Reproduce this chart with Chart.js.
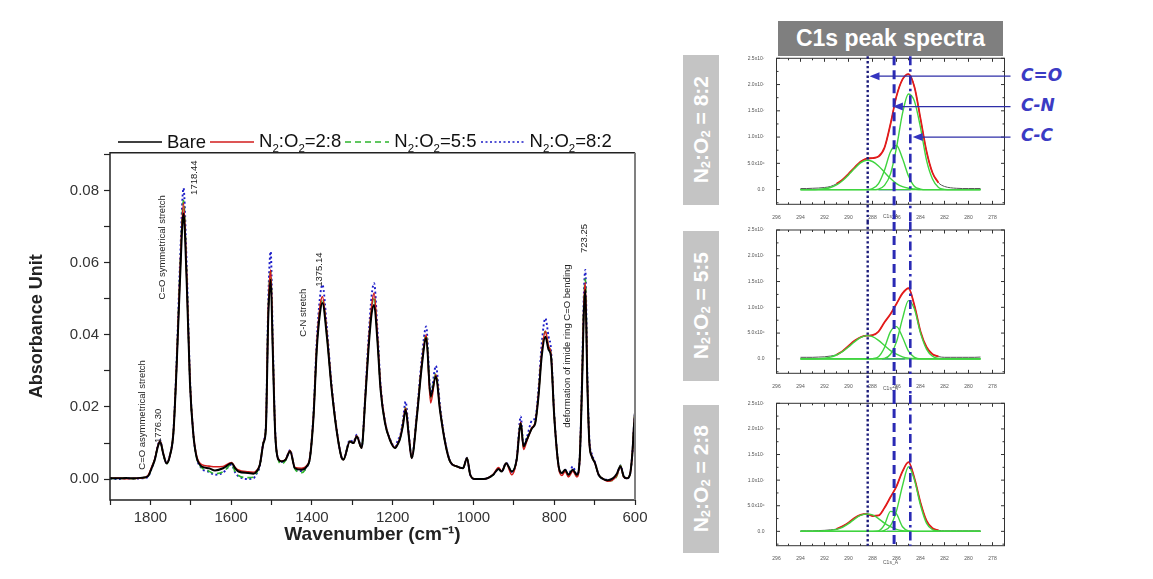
<!DOCTYPE html>
<html>
<head>
<meta charset="utf-8">
<title>FTIR absorbance and C1s peak spectra</title>
<script src="https://cdn.jsdelivr.net/npm/chart.js@4.4.1/dist/chart.umd.min.js"></script>
<style>
  html, body { margin: 0; padding: 0; background: #fff; }
  body { position: relative; width: 1153px; height: 579px; overflow: hidden; font-family: "Liberation Sans", Arial, sans-serif; }
  canvas { position: absolute; }
  #legend { position: absolute; left: 118px; top: 130px; height: 24px; display: flex; align-items: center; font-size: 18.5px; color: #111; white-space: nowrap; }
  #legend svg { display: block; }
  #legend .name { margin: 0 4px 0 5px; }
  sub { font-size: 0.62em; line-height: 1; }
  .title-box { position: absolute; left: 778px; top: 21px; width: 225px; height: 35px; background: #7f7f7f; color: #fff; font-weight: bold; font-size: 23px; line-height: 35px; text-align: center; }
  .ratio { position: absolute; left: 683px; width: 36px; background: #c4c4c4; color: #fff; font-weight: bold; font-size: 21px; display: flex; align-items: center; justify-content: center; }
  .ratio span { writing-mode: vertical-rl; transform: rotate(180deg); white-space: nowrap; }
  .bond { position: absolute; left: 1021px; font: italic bold 17px "DejaVu Sans", sans-serif; color: #3b3bc4; line-height: 20px; }
</style>
</head>
<body>
<canvas id="ftir" width="680" height="579" style="left:0;top:0"></canvas>
<div id="legend"></div>

<div class="title-box">C1s peak spectra</div>
<div class="ratio" style="top:55px;height:150px"><span>N<sub>2</sub>:O<sub>2</sub> = 8:2</span></div>
<div class="ratio" style="top:231px;height:150px"><span>N<sub>2</sub>:O<sub>2</sub> = 5:5</span></div>
<div class="ratio" style="top:405px;height:148px"><span>N<sub>2</sub>:O<sub>2</sub> = 2:8</span></div>

<canvas id="xps82" width="270" height="172" style="left:745px;top:50px"></canvas>
<canvas id="xps55" width="270" height="173" style="left:745px;top:222px"></canvas>
<canvas id="xps28" width="270" height="175" style="left:745px;top:395px"></canvas>

<div class="bond" style="top:65px">C=O</div>
<div class="bond" style="top:95px">C-N</div>
<div class="bond" style="top:125px">C-C</div>

<script>
// ---- FTIR absorbance (left panel) ----
const wavenumber = [1900,1880,1860,1840,1820,1806,1797,1789,1782,1776,
  1768,1760,1752,1743,1735,1727,1718,1710,1702,1694,
  1686,1673,1655,1640,1620,1599,1590,1582,1558,1545,
  1537,1529,1520,1514,1508,1502,1497,1491,1483,1475,
  1465,1454,1442,1425,1413,1405,1396,1388,1380,1374,
  1363,1351,1338,1326,1322,1306,1297,1289,1277,1268,
  1260,1252,1246,1238,1230,1219,1207,1194,1186,1182,
  1175,1168,1160,1153,1140,1128,1117,1106,1093,1083,
  1070,1058,1041,1026,1016,1008,996,975,951,938,
  930,919,905,893,883,876,868,855,847,839,
  831,822,814,808,800,789,781,773,765,754,
  744,737,731,727,723,718,713,707,699,690,
  678,668,655,645,636,628,620,612,606,603,
  600];

const bare = [.0003,.0002,.0003,.0002,.0004,.0008,.0030,.0054,.0088,.0104,
  .0070,.0043,.0063,.0128,.0312,.0543,.0737,.0543,.0266,.0128,
  .0063,.0035,.0030,.0024,.0030,.0044,.0030,.0021,.0017,.0015,
  .0021,.0040,.0100,.0140,.0451,.0553,.0359,.0128,.0054,.0049,
  .0054,.0077,.0030,.0026,.0035,.0058,.0174,.0359,.0460,.0488,
  .0395,.0248,.0128,.0058,.0054,.0104,.0100,.0118,.0086,.0220,
  .0359,.0460,.0483,.0386,.0248,.0155,.0109,.0086,.0100,.0111,
  .0146,.0192,.0118,.0058,.0174,.0312,.0391,.0229,.0285,.0192,
  .0100,.0049,.0035,.0030,.0058,.0012,.0000,.0000,.0012,.0028,
  .0021,.0044,.0021,.0054,.0155,.0091,.0109,.0141,.0155,.0229,
  .0340,.0395,.0359,.0340,.0174,.0035,.0017,.0026,.0012,.0026,
  .0012,.0054,.0266,.0451,.0525,.0266,.0100,.0063,.0044,.0012,
  .0000,-.0003,.0002,.0015,.0035,.0008,.0002,.0015,.0080,.0140,
  .0185];

const n2o2_28 = [.0002,.0003,.0001,.0002,.0003,.0010,.0033,.0056,.0090,.0106,
  .0070,.0044,.0064,.0130,.0318,.0560,.0766,.0560,.0272,.0130,
  .0066,.0040,.0036,.0034,.0035,.0046,.0032,.0025,.0020,.0019,
  .0024,.0040,.0102,.0145,.0470,.0580,.0370,.0132,.0055,.0050,
  .0055,.0079,.0032,.0030,.0037,.0060,.0178,.0370,.0478,.0506,
  .0405,.0252,.0130,.0058,.0054,.0105,.0100,.0120,.0086,.0225,
  .0372,.0480,.0516,.0400,.0255,.0158,.0110,.0087,.0102,.0113,
  .0150,.0197,.0120,.0058,.0178,.0320,.0400,.0211,.0290,.0195,
  .0101,.0049,.0035,.0030,.0058,.0012,.0000,.0000,.0013,.0032,
  .0022,.0044,.0012,.0054,.0158,.0082,.0105,.0143,.0157,.0235,
  .0350,.0410,.0368,.0345,.0176,.0032,.0010,.0022,.0006,.0022,
  .0006,.0054,.0275,.0470,.0545,.0272,.0102,.0064,.0044,.0012,
  .0000,-.0006,-.0002,.0010,.0036,.0006,.0002,.0015,.0080,.0140,
  .0185];

const n2o2_55 = [.0001,.0002,.0002,.0001,.0003,.0007,.0032,.0055,.0089,.0105,
  .0068,.0042,.0064,.0131,.0320,.0565,.0772,.0565,.0275,.0129,
  .0062,.0032,.0022,.0015,.0020,.0040,.0020,.0010,.0004,.0005,
  .0018,.0038,.0102,.0146,.0472,.0575,.0372,.0132,.0052,.0042,
  .0052,.0077,.0028,.0018,.0033,.0058,.0178,.0365,.0472,.0500,
  .0400,.0250,.0130,.0058,.0054,.0105,.0100,.0119,.0086,.0224,
  .0368,.0474,.0505,.0396,.0252,.0157,.0110,.0087,.0101,.0112,
  .0150,.0198,.0120,.0060,.0178,.0320,.0400,.0225,.0292,.0196,
  .0101,.0049,.0035,.0030,.0058,.0012,.0000,.0000,.0012,.0028,
  .0020,.0044,.0020,.0054,.0158,.0088,.0108,.0143,.0158,.0235,
  .0352,.0410,.0368,.0346,.0176,.0035,.0014,.0024,.0010,.0026,
  .0010,.0054,.0278,.0476,.0555,.0275,.0103,.0064,.0044,.0012,
  .0000,-.0005,-.0004,.0008,.0038,.0006,.0002,.0015,.0080,.0140,
  .0185];

const n2o2_82 = [.0001,.0000,.0002,.0001,.0002,.0006,.0030,.0056,.0092,.0108,
  .0068,.0045,.0064,.0133,.0330,.0590,.0807,.0590,.0282,.0131,
  .0062,.0030,.0020,.0012,.0018,.0040,.0018,.0008,.0000,.0002,
  .0015,.0036,.0104,.0150,.0500,.0631,.0390,.0136,.0055,.0048,
  .0054,.0080,.0028,.0022,.0033,.0060,.0185,.0385,.0505,.0539,
  .0420,.0258,.0132,.0058,.0054,.0108,.0103,.0123,.0088,.0232,
  .0388,.0510,.0543,.0420,.0262,.0160,.0112,.0090,.0112,.0118,
  .0160,.0215,.0124,.0060,.0185,.0335,.0423,.0235,.0314,.0205,
  .0104,.0050,.0035,.0030,.0059,.0012,.0000,.0000,.0012,.0028,
  .0021,.0045,.0020,.0056,.0174,.0092,.0115,.0163,.0170,.0250,
  .0375,.0446,.0395,.0360,.0180,.0035,.0015,.0026,.0012,.0035,
  .0012,.0056,.0290,.0500,.0580,.0290,.0110,.0070,.0046,.0012,
  .0000,-.0002,.0000,.0012,.0038,.0008,.0002,.0015,.0080,.0140,
  .0185];

const seriesNames = ['Bare', 'N₂:O₂=2:8', 'N₂:O₂=5:5', 'N₂:O₂=8:2'];
const seriesLegendHtml = ['Bare', 'N<sub>2</sub>:O<sub>2</sub>=2:8', 'N<sub>2</sub>:O<sub>2</sub>=5:5', 'N<sub>2</sub>:O<sub>2</sub>=8:2'];
const absorbanceTicks = [0, 0.02, 0.04, 0.06, 0.08];
const wavenumberTicks = [1800, 1600, 1400, 1200, 1000, 800, 600];

// rotated peak assignments, anchored at the bottom end of the text
const peakNotes = [
  { text: 'C=O asymmetrical stretch', wn: 1821, a: 0.0026 },
  { text: '1776.30', wn: 1780, a: 0.0100 },
  { text: 'C=O symmetrical stretch', wn: 1771, a: 0.0498 },
  { text: '1718.44', wn: 1691, a: 0.0788 },
  { text: 'C-N stretch', wn: 1420, a: 0.0395 },
  { text: '1375.14', wn: 1382, a: 0.0533 },
  { text: 'deformation of imide ring C=O bending', wn: 767, a: 0.0142 },
  { text: '723.25', wn: 726, a: 0.0627 }
];

// ---- C1s XPS fits (right panels), intensity in units of 10^6 ----
const bindingEnergy = [294,293.5,293,292.5,292,291.5,291,290.5,290,289.5,
  289,288.5,288,287.5,287,286.5,286,285.5,285,284.5,
  284,283.5,283,282.5,282,281.5,281,280.5,280,279.5,
  279];

const env82 = [0.2,0.2,0.25,0.3,0.4,0.6,1.1,1.9,3.0,4.2, 5.3,5.9,6.0,6.3,8.0,12.5,17.8,21.0,22.0,19.5, 13.5,7.3,3.2,1.3,0.6,0.35,0.25,0.2,0.2,0.2, 0.2];
const co82  = [0,0,0,0.05,0.16,0.4,0.9,1.7,2.8,4.0, 5.1,5.6,5.35,4.5,3.3,2.1,1.15,0.55,0.25,0.1, 0,0,0,0,0,0,0,0,0,0, 0];
const cn82  = [0,0,0,0,0,0,0,0,0,0, 0,0,0.2,1.15,3.7,7.2,8.4,5.9,2.6,0.6, 0.1,0,0,0,0,0,0,0,0,0, 0];
const cc82  = [0,0,0,0,0,0,0,0,0,0, 0,0,0,0.1,0.8,3.0,8.0,14.5,18.2,16.8, 11.8,5.6,2.0,0.4,0.05,0,0,0,0,0, 0];

const env55 = [0.3,0.3,0.3,0.35,0.4,0.55,0.8,1.5,2.5,3.5, 4.2,4.5,4.6,5.3,7.1,8.7,10.7,12.7,13.7,10.3, 5.3,2.3,0.9,0.45,0.3,0.3,0.3,0.3,0.3,0.3, 0.35];
const co55  = [0,0,0,0.05,0.15,0.35,0.75,1.4,2.3,3.3, 4.1,4.5,4.3,3.6,2.6,1.6,0.9,0.4,0.15,0.05, 0,0,0,0,0,0,0,0,0,0, 0];
const cn55  = [0,0,0,0,0,0,0,0,0,0, 0,0,0.05,0.4,2.2,5.3,6.25,4.2,1.5,0.3, 0,0,0,0,0,0,0,0,0,0, 0];
const cc55  = [0,0,0,0,0,0,0,0,0,0, 0,0,0,0,0.1,0.9,3.3,7.8,11.3,9.6, 5.0,1.9,0.5,0.1,0,0,0,0,0,0, 0];

const env28 = [0.1,0.1,0.1,0.15,0.2,0.3,0.45,1.0,1.7,2.6, 3.2,3.4,3.0,3.1,4.6,6.7,8.8,11.7,13.5,10.3, 5.6,2.1,0.6,0.2,0.1,0.1,0.1,0.1,0.1,0.1, 0.1];
const co28  = [0,0,0,0.01,0.1,0.2,0.4,0.8,1.5,2.4, 3.1,3.4,3.2,2.5,1.6,0.9,0.4,0.15,0.05,0, 0,0,0,0,0,0,0,0,0,0, 0];
const cn28  = [0,0,0,0,0,0,0,0,0,0, 0,0,0,0.1,1.3,3.9,3.4,0.9,0.1,0, 0,0,0,0,0,0,0,0,0,0, 0];
const cc28  = [0,0,0,0,0,0,0,0,0,0, 0,0,0,0,0.2,1.1,4.0,8.9,12.6,10.0, 5.1,1.6,0.35,0.05,0,0,0,0,0,0, 0];

const baselineRange = [294, 279];
const fitRange = [291, 282.5];
const blue82 = [287.5, 284.8];
const blue55 = [287.2, 285.3];
const blue28 = [286.8, 286.0];

const xpsTickLabels = ['0.0', '5.0x10⁶', '1.0x10⁷', '1.5x10⁷', '2.0x10⁷', '2.5x10⁷'];
const energyTicks = [296, 294, 292, 290, 288, 286, 284, 282, 280, 278];

// C=O, C-N, C-C reference positions (eV)
const bondEnergies = [288.4, 286.2, 284.85];
const arrowTips = [288.25, 286.3, 284.65];
const arrowLevels = [21.6, 15.8, 10.0];

Chart.defaults.font.family = '"Liberation Sans", Arial, sans-serif';

function xyPoints(xs, ys) {
  return xs.map((x, i) => ({ x: x, y: ys[i] }));
}

const seriesStyle = [
  { color: '#000000', width: 2.0, dash: [] },
  { color: '#d21c1c', width: 1.6, dash: [] },
  { color: '#2cb52c', width: 1.6, dash: [6, 4] },
  { color: '#1c1cc8', width: 1.9, dash: [2, 2.5] }
];
const seriesValues = [bare, n2o2_28, n2o2_55, n2o2_82];

// legend (html so the subscripts stay real text)
const legendBox = document.getElementById('legend');
seriesLegendHtml.forEach((html, i) => {
  const s = seriesStyle[i];
  const svg = document.createElementNS('http://www.w3.org/2000/svg', 'svg');
  svg.setAttribute('width', '44');
  svg.setAttribute('height', '6');
  const ln = document.createElementNS('http://www.w3.org/2000/svg', 'line');
  ln.setAttribute('x1', '0'); ln.setAttribute('y1', '3');
  ln.setAttribute('x2', '44'); ln.setAttribute('y2', '3');
  ln.setAttribute('stroke', s.color);
  ln.setAttribute('stroke-width', '1.6');
  if (s.dash.length) ln.setAttribute('stroke-dasharray', s.dash.join(' '));
  svg.appendChild(ln);
  legendBox.appendChild(svg);
  const name = document.createElement('span');
  name.className = 'name';
  name.innerHTML = html;
  legendBox.appendChild(name);
});

const ftirDecor = {
  id: 'ftirDecor',
  afterDraw(chart) {
    const { ctx, chartArea: a, scales: { x, y } } = chart;
    ctx.save();
    ctx.strokeStyle = '#222';
    ctx.lineWidth = 1.5;
    ctx.beginPath();
    ctx.moveTo(a.right, a.top);
    ctx.lineTo(a.left, a.top);
    ctx.lineTo(a.left, a.bottom);
    ctx.lineTo(a.right, a.bottom);
    ctx.stroke();
    ctx.strokeStyle = '#808080';
    ctx.lineWidth = 2;
    ctx.beginPath();
    ctx.moveTo(a.right, a.top);
    ctx.lineTo(a.right, a.bottom);
    ctx.stroke();

    ctx.fillStyle = '#222';
    ctx.font = '9.5px "Liberation Sans", Arial, sans-serif';
    ctx.textAlign = 'left';
    ctx.textBaseline = 'middle';
    peakNotes.forEach(n => {
      ctx.save();
      ctx.translate(x.getPixelForValue(n.wn), y.getPixelForValue(n.a));
      ctx.rotate(-Math.PI / 2);
      ctx.fillText(n.text, 0, 0);
      ctx.restore();
    });
    ctx.restore();
  }
};

new Chart(document.getElementById('ftir'), {
  type: 'line',
  data: {
    datasets: seriesValues.map((vals, i) => ({
      label: seriesNames[i],
      data: xyPoints(wavenumber, vals),
      borderColor: seriesStyle[i].color,
      borderWidth: seriesStyle[i].width,
      borderDash: seriesStyle[i].dash,
      fill: false
    }))
  },
  options: {
    responsive: false,
    animation: false,
    devicePixelRatio: 1,
    events: [],
    layout: { padding: { left: 0, right: 45, top: 152.7, bottom: 0 } },
    elements: {
      point: { radius: 0 },
      line: { cubicInterpolationMode: 'monotone' }
    },
    plugins: { legend: { display: false }, tooltip: { enabled: false } },
    scales: {
      x: {
        type: 'linear',
        reverse: true,
        min: 600,
        max: 1900,
        afterFit: s => { s.height = 79; },
        border: { display: false },
        grid: { drawOnChartArea: false, drawTicks: true, tickLength: 5, color: '#222', tickWidth: 1.2 },
        ticks: {
          stepSize: 100, maxTicksLimit: 30, autoSkip: false, maxRotation: 0,
          includeBounds: false, padding: 4, color: '#333', font: { size: 15 },
          callback: v => wavenumberTicks.includes(v) ? String(v) : ''
        },
        title: {
          display: true, text: 'Wavenumber (cm⁻¹)', color: '#222',
          font: { size: 19, weight: 'bold' }, padding: { top: 0, bottom: 32.6 }
        }
      },
      y: {
        min: -0.0058,
        max: 0.0905,
        afterFit: s => { s.width = 110; },
        border: { display: false },
        grid: { drawOnChartArea: false, drawTicks: true, tickLength: 6, color: '#222', tickWidth: 1.2 },
        ticks: {
          stepSize: 0.01, maxTicksLimit: 30, autoSkip: false, includeBounds: false,
          padding: 5, color: '#333', font: { size: 15 },
          callback: v => absorbanceTicks.some(t => Math.abs(t - v) < 1e-6) ? v.toFixed(2) : ''
        },
        title: {
          display: true, text: 'Absorbance Unit', color: '#222',
          font: { size: 18, weight: 'bold' }, padding: { top: 26.2, bottom: 0 }
        }
      }
    }
  },
  plugins: [ftirDecor]
});

// ---- XPS panels ----
const bondStyles = [
  { color: '#1b1b7a', width: 2.4, dash: [2.4, 2.4] },
  { color: '#2a2ab4', width: 3, dash: [9, 5] },
  { color: '#2a2ab4', width: 2.6, dash: [9, 4, 2.5, 4] }
];

const xpsDecor = {
  id: 'xpsDecor',
  afterDatasetsDraw(chart, args, opts) {
    const { ctx, chartArea: a, scales: { x, y } } = chart;
    ctx.save();
    ctx.strokeStyle = '#333';
    ctx.lineWidth = 1;
    ctx.strokeRect(a.left, a.top, a.right - a.left, a.bottom - a.top);
    ctx.beginPath();
    x.ticks.forEach(t => {
      const px = x.getPixelForValue(t.value);
      const len = energyTicks.includes(t.value) ? 3.5 : 2;
      ctx.moveTo(px, a.bottom); ctx.lineTo(px, a.bottom - len);
      ctx.moveTo(px, a.top); ctx.lineTo(px, a.top + len);
    });
    y.ticks.forEach(t => {
      const py = y.getPixelForValue(t.value);
      const len = t.label ? 3.5 : 2;
      ctx.moveTo(a.left, py); ctx.lineTo(a.left + len, py);
      ctx.moveTo(a.right, py); ctx.lineTo(a.right - len, py);
    });
    ctx.stroke();

    const top = opts.lineTop === 'area' ? a.top - 2 : 0;
    const bottom = opts.lineBottom === 'area' ? a.bottom : chart.height;
    bondEnergies.forEach((e, i) => {
      const st = bondStyles[i];
      const px = x.getPixelForValue(e);
      ctx.strokeStyle = st.color;
      ctx.lineWidth = st.width;
      ctx.setLineDash(st.dash);
      ctx.beginPath();
      ctx.moveTo(px, top);
      ctx.lineTo(px, bottom);
      ctx.stroke();
    });
    ctx.setLineDash([]);

    if (opts.arrows) {
      ctx.strokeStyle = '#2e2ea8';
      ctx.fillStyle = '#3434c0';
      ctx.lineWidth = 1.3;
      arrowTips.forEach((e, i) => {
        const tip = x.getPixelForValue(e);
        const py = y.getPixelForValue(arrowLevels[i]);
        ctx.beginPath();
        ctx.moveTo(a.right + 6, py);
        ctx.lineTo(tip + 6, py);
        ctx.stroke();
        ctx.beginPath();
        ctx.moveTo(tip, py);
        ctx.lineTo(tip + 10, py - 4);
        ctx.lineTo(tip + 10, py + 4);
        ctx.closePath();
        ctx.fill();
      });
    }
    ctx.restore();
  }
};

function makeXps(id, p) {
  const green = '#3fd43f';
  const fitPoints = xyPoints(bindingEnergy, p.env).filter(pt => pt.x <= fitRange[0] && pt.x >= fitRange[1]);
  const datasets = [
    { data: xyPoints(bindingEnergy, p.co), borderColor: green, borderWidth: 1.4 },
    { data: xyPoints(bindingEnergy, p.cn), borderColor: green, borderWidth: 1.4 },
    { data: xyPoints(bindingEnergy, p.cc), borderColor: green, borderWidth: 1.4 },
    { data: baselineRange.map(e => ({ x: e, y: 0 })), borderColor: green, borderWidth: 1.4 },
    { data: p.blue.map(e => ({ x: e, y: 0 })), borderColor: '#2424d0', borderWidth: 1.4 },
    { data: fitPoints, borderColor: '#e41a1a', borderWidth: 1.8 },
    { data: xyPoints(bindingEnergy, p.env), borderColor: '#555555', borderWidth: 1 }
  ];
  new Chart(document.getElementById(id), {
    type: 'line',
    data: { datasets: datasets.map(d => Object.assign({ fill: false }, d)) },
    options: {
      responsive: false,
      animation: false,
      devicePixelRatio: 1,
      events: [],
      layout: { padding: { left: 0, right: 10.5, top: p.padTop, bottom: 0 } },
      elements: {
        point: { radius: 0 },
        line: { cubicInterpolationMode: 'monotone' }
      },
      plugins: {
        legend: { display: false },
        tooltip: { enabled: false },
        xpsDecor: { lineTop: p.lineTop, lineBottom: p.lineBottom, arrows: p.arrows }
      },
      scales: {
        x: {
          type: 'linear',
          reverse: true,
          min: 277,
          max: 296,
          afterFit: s => { s.height = p.xHeight; },
          border: { display: false },
          grid: { display: false },
          ticks: {
            stepSize: 1, maxTicksLimit: 30, autoSkip: false, maxRotation: 0,
            includeBounds: false, padding: 2, color: '#555', font: { size: 5 },
            callback: v => energyTicks.includes(v) ? String(v) : ''
          },
          title: {
            display: true, text: 'C1s_A', color: '#555',
            font: { size: 5 }, padding: { top: 0, bottom: p.titlePad }
          }
        },
        y: {
          min: -2.8,
          max: 25,
          afterFit: s => { s.width = 31.5; },
          border: { display: false },
          grid: { display: false },
          ticks: {
            stepSize: 2.5, maxTicksLimit: 30, autoSkip: false, includeBounds: false,
            padding: 4, color: '#555', font: { size: 5 },
            callback: v => {
              const k = v / 5;
              return (v >= 0 && Math.abs(k - Math.round(k)) < 1e-6) ? xpsTickLabels[Math.round(k)] : '';
            }
          }
        }
      }
    },
    plugins: [xpsDecor]
  });
}

makeXps('xps82', { env: env82, co: co82, cn: cn82, cc: cc82, blue: blue82,
  padTop: 8.3, xHeight: 17.7, titlePad: 2.3, lineTop: 'area', lineBottom: 'canvas', arrows: true });
makeXps('xps55', { env: env55, co: co55, cn: cn55, cc: cc55, blue: blue55,
  padTop: 8, xHeight: 21.7, titlePad: 3, lineTop: 'canvas', lineBottom: 'canvas', arrows: false });
makeXps('xps28', { env: env28, co: co28, cn: cn28, cc: cc28, blue: blue28,
  padTop: 8.3, xHeight: 24.3, titlePad: 4.3, lineTop: 'canvas', lineBottom: 'area', arrows: false });
</script>
</body>
</html>
